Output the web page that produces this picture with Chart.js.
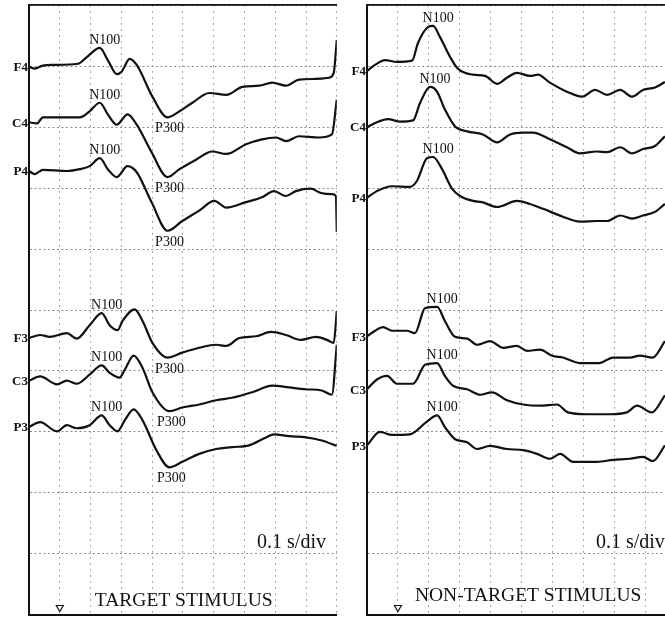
<!DOCTYPE html>
<html>
<head>
<meta charset="utf-8">
<script src="https://cdn.jsdelivr.net/npm/chart.js@4.4.1/dist/chart.umd.min.js"></script>
<style>
    html, body { margin: 0; padding: 0; background: #fff; overflow: hidden; }
    #wrap { position: relative; width: 665px; height: 620px; overflow: hidden; }
    #cLeft { position: absolute; left: 0; top: 0; }
    #cRight { position: absolute; left: 342px; top: 0; }
</style>
</head>
<body>
<div id="wrap">
    <canvas id="cLeft" width="342" height="620" style="width:342px;height:620px"></canvas>
    <canvas id="cRight" width="340" height="620" style="width:340px;height:620px"></canvas>
</div>
<script>
// time in ms, amplitude on a 0-100 scale (10 per division)
const channels = ['F4', 'C4', 'P4', 'F3', 'C3', 'P3'];
const panelTitles = ['TARGET STIMULUS', 'NON-TARGET STIMULUS'];
const timeBaseLabel = '0.1 s/div';
const stimulusOnset = 100;

const targetF4 = [[0,89.9],[19,89.6],[45,90.1],[78,90.2],[159,90.4],[188,91.5],[230,93.0],[256,91.0],[285,88.7],[301,89.1],[327,91.2],[350,90.2],[401,85.0],[450,81.6],[489,82.6],[531,84.0],[586,85.6],[641,85.3],[693,86.6],[748,86.8],[790,87.3],[835,86.8],[877,87.8],[932,87.9],[974,88.1],[990,88.9],[1000,94.3]];
const targetC4 = [[0,80.8],[26,80.6],[45,81.6],[165,81.6],[197,82.6],[230,84.0],[256,82.1],[285,80.4],[320,82.1],[350,80.4],[398,75.9],[450,71.8],[489,73.1],[544,74.7],[595,76.0],[641,75.6],[705,77.2],[757,78.0],[803,78.3],[835,77.7],[877,78.5],[942,78.3],[984,78.8],[1000,84.5]];
const targetP4 = [[0,72.8],[19,72.3],[45,73.0],[123,72.8],[165,73.1],[197,73.6],[230,74.9],[256,73.1],[285,71.8],[320,73.6],[350,72.6],[398,67.7],[450,63.0],[498,64.6],[553,66.3],[602,67.9],[641,66.8],[705,67.7],[757,68.5],[796,69.5],[835,68.7],[867,69.5],[916,69.9],[948,69.2],[984,69.0],[997,68.7],[1000,62.8]];
const targetF3 = [[0,45.4],[36,45.9],[68,45.6],[123,46.2],[155,45.3],[197,47.5],[236,49.5],[262,47.5],[288,46.7],[304,48.2],[343,50.1],[369,48.2],[401,44.6],[450,42.2],[498,43.0],[553,43.8],[608,44.3],[641,44.1],[683,45.4],[738,45.7],[786,46.4],[835,45.9],[883,45.1],[932,45.6],[968,45.1],[990,44.6],[1000,49.8]];
const targetC3 = [[0,38.4],[36,39.1],[91,37.8],[123,38.4],[155,37.9],[197,39.4],[236,40.9],[262,39.7],[294,38.9],[311,40.2],[340,42.5],[369,40.5],[401,36.5],[456,33.4],[498,34.0],[553,34.5],[608,35.2],[660,35.6],[725,36.5],[790,37.6],[845,37.3],[900,37.0],[951,36.8],[984,36.1],[1000,44.3]];
const targetP3 = [[0,30.8],[36,31.6],[91,30.1],[123,31.1],[155,30.6],[197,31.1],[236,32.7],[262,31.1],[288,30.1],[311,31.9],[340,33.7],[369,31.9],[414,27.0],[456,24.2],[498,25.1],[553,26.4],[608,27.2],[660,27.5],[715,27.8],[770,29.1],[796,29.6],[845,29.3],[900,29.1],[951,28.6],[1000,27.7]];

const nonTargetF4 = [[0,89.2],[26,90.2],[58,91.0],[97,90.7],[146,90.9],[165,93.8],[197,96.4],[214,96.6],[236,94.8],[269,91.5],[294,89.6],[343,88.6],[382,88.4],[421,87.1],[453,88.1],[485,88.9],[527,88.4],[553,88.6],[592,87.3],[647,85.8],[696,85.0],[738,86.1],[777,85.3],[819,86.1],[858,85.0],[893,86.1],[932,86.5],[964,87.4]];
const nonTargetC4 = [[0,80.0],[32,80.8],[68,81.3],[107,80.9],[149,81.1],[172,84.0],[204,86.6],[227,85.8],[252,82.9],[285,80.1],[324,79.3],[375,78.8],[421,77.5],[463,78.8],[505,79.1],[537,79.1],[592,78.0],[647,76.7],[689,75.7],[744,76.0],[777,75.9],[819,76.7],[858,75.7],[893,76.4],[932,76.9],[964,78.5]];
const nonTargetP4 = [[0,68.4],[32,69.5],[81,70.3],[139,70.2],[162,71.2],[194,74.9],[214,75.1],[243,73.1],[275,69.9],[301,68.7],[343,67.9],[372,67.7],[421,66.9],[485,67.9],[527,67.4],[570,66.6],[634,65.3],[689,64.5],[744,64.6],[777,64.6],[819,65.5],[858,65.0],[893,65.5],[932,66.1],[964,67.4]];
const nonTargetF3 = [[0,45.7],[26,46.6],[52,47.2],[81,46.6],[129,46.6],[155,46.2],[188,50.3],[227,50.5],[252,48.2],[285,45.6],[324,45.3],[356,44.3],[398,44.9],[440,43.8],[485,44.1],[518,43.3],[560,43.5],[599,42.5],[634,42.2],[689,41.3],[751,41.3],[796,42.2],[851,42.2],[883,42.5],[925,42.2],[964,44.9]];
const nonTargetC3 = [[0,37.0],[32,38.6],[65,39.2],[97,37.9],[149,37.9],[188,41.0],[227,41.3],[252,39.2],[278,37.6],[324,37.0],[366,36.1],[404,36.5],[453,35.2],[505,34.5],[560,34.3],[615,34.5],[650,33.2],[712,32.9],[786,32.9],[841,33.2],[874,34.3],[922,33.2],[964,36.0]];
const nonTargetP3 = [[0,27.8],[42,30.0],[81,29.5],[139,29.6],[194,31.7],[227,32.7],[252,30.8],[285,28.8],[324,28.3],[356,27.2],[398,27.7],[453,27.2],[505,27.0],[550,26.4],[592,25.6],[625,26.4],[667,25.1],[744,25.1],[796,25.4],[851,25.6],[893,25.9],[925,25.2],[964,27.8]];

const targetTraces = [targetF4, targetC4, targetP4, targetF3, targetC3, targetP3];
const nonTargetTraces = [nonTargetF4, nonTargetC4, nonTargetP4, nonTargetF3, nonTargetC3, nonTargetP3];

const SERIF = '"Liberation Serif", "Times New Roman", serif';
const INK = '#111';

function findPeak(points, from, to, sign) {
    let best = null;
    points.forEach(p => {
        if (p[0] >= from && p[0] <= to && (!best || sign * (p[1] - best[1]) > 0)) {
            best = p;
        }
    });
    return best;
}

const traceText = {
    id: 'traceText',
    afterDatasetsDraw(chart, args, opts) {
        const {ctx, chartArea} = chart;
        const xs = chart.scales.x;
        const ys = chart.scales.y;
        ctx.save();
        ctx.fillStyle = INK;

        chart.data.datasets.forEach(ds => {
            if (!ds.channel) return;
            // channel name at the start of the trace
            ctx.font = 'bold 13px ' + SERIF;
            ctx.textAlign = 'right';
            ctx.textBaseline = 'middle';
            ctx.fillText(ds.channel, chartArea.left - 1, ys.getPixelForValue(ds.data[0][1]) + 1);

            ctx.font = '14px ' + SERIF;
            ctx.textAlign = 'center';
            ctx.textBaseline = 'alphabetic';
            const n = findPeak(ds.data, 150, 260, 1);
            ctx.fillText('N100', xs.getPixelForValue(n[0]) + 5, ys.getPixelForValue(n[1]) - 4);
            if (opts.p300) {
                const p = findPeak(ds.data, 400, 520, -1);
                ctx.fillText('P300', xs.getPixelForValue(p[0]) + 2, ys.getPixelForValue(p[1]) + 15);
            }
        });

        ctx.textAlign = 'left';
        ctx.textBaseline = 'middle';
        ctx.font = '20px ' + SERIF;
        ctx.fillText(timeBaseLabel, xs.getPixelForValue(741), ys.getPixelForValue(11.9));
        ctx.font = '19.5px ' + SERIF;
        ctx.fillText(opts.title, xs.getPixelForValue(opts.titleAt[0]), ys.getPixelForValue(opts.titleAt[1]));
        ctx.restore();
    }
};

function buildDatasets(traces) {
    const sets = traces.map((pts, i) => ({
        channel: channels[i],
        data: pts,
        borderColor: INK,
        borderWidth: 2.2,
        pointRadius: 0,
        fill: false,
        cubicInterpolationMode: 'monotone'
    }));
    sets.push({
        data: [[stimulusOnset, 1.2]],
        showLine: false,
        pointStyle: 'triangle',
        rotation: 180,
        pointRadius: 4,
        borderWidth: 1.2,
        borderColor: INK,
        backgroundColor: '#fff'
    });
    return sets;
}

function makeChart(canvasId, traces, padding, textOpts) {
    const gridColor = '#8d8d8d';
    return new Chart(document.getElementById(canvasId), {
        type: 'line',
        data: { datasets: buildDatasets(traces) },
        options: {
            responsive: false,
            animation: false,
            layout: { padding: padding },
            scales: {
                x: {
                    type: 'linear',
                    min: 0,
                    max: 1000,
                    ticks: { display: false, stepSize: 100 },
                    grid: { color: gridColor, lineWidth: 1, drawTicks: false },
                    border: { display: true, color: INK, width: 2, dash: [1.5, 4.5] },
                    afterFit: s => { s.height = 0; }
                },
                xTop: {
                    type: 'linear',
                    position: 'top',
                    min: 0,
                    max: 1000,
                    ticks: { display: false },
                    grid: { display: false, drawTicks: false },
                    border: { display: true, color: INK, width: 1.8 },
                    afterFit: s => { s.height = 0; }
                },
                y: {
                    type: 'linear',
                    min: 0,
                    max: 100,
                    ticks: { display: false, stepSize: 10 },
                    grid: { color: gridColor, lineWidth: 1, drawTicks: false },
                    border: { display: true, color: INK, width: 2, dash: [2, 2.5] },
                    afterFit: s => { s.width = 0; }
                }
            },
            plugins: {
                legend: { display: false },
                tooltip: { enabled: false },
                traceText: textOpts
            }
        },
        plugins: [traceText]
    });
}

makeChart('cLeft', targetTraces, { left: 29, top: 5, right: 4, bottom: 1 },
    { p300: true, title: panelTitles[0], titleAt: [214, 2.3] });
makeChart('cRight', nonTargetTraces, { left: 25, top: 4, right: 6, bottom: 1 },
    { p300: false, title: panelTitles[1], titleAt: [155, 3.1] });
</script>
</body>
</html>
